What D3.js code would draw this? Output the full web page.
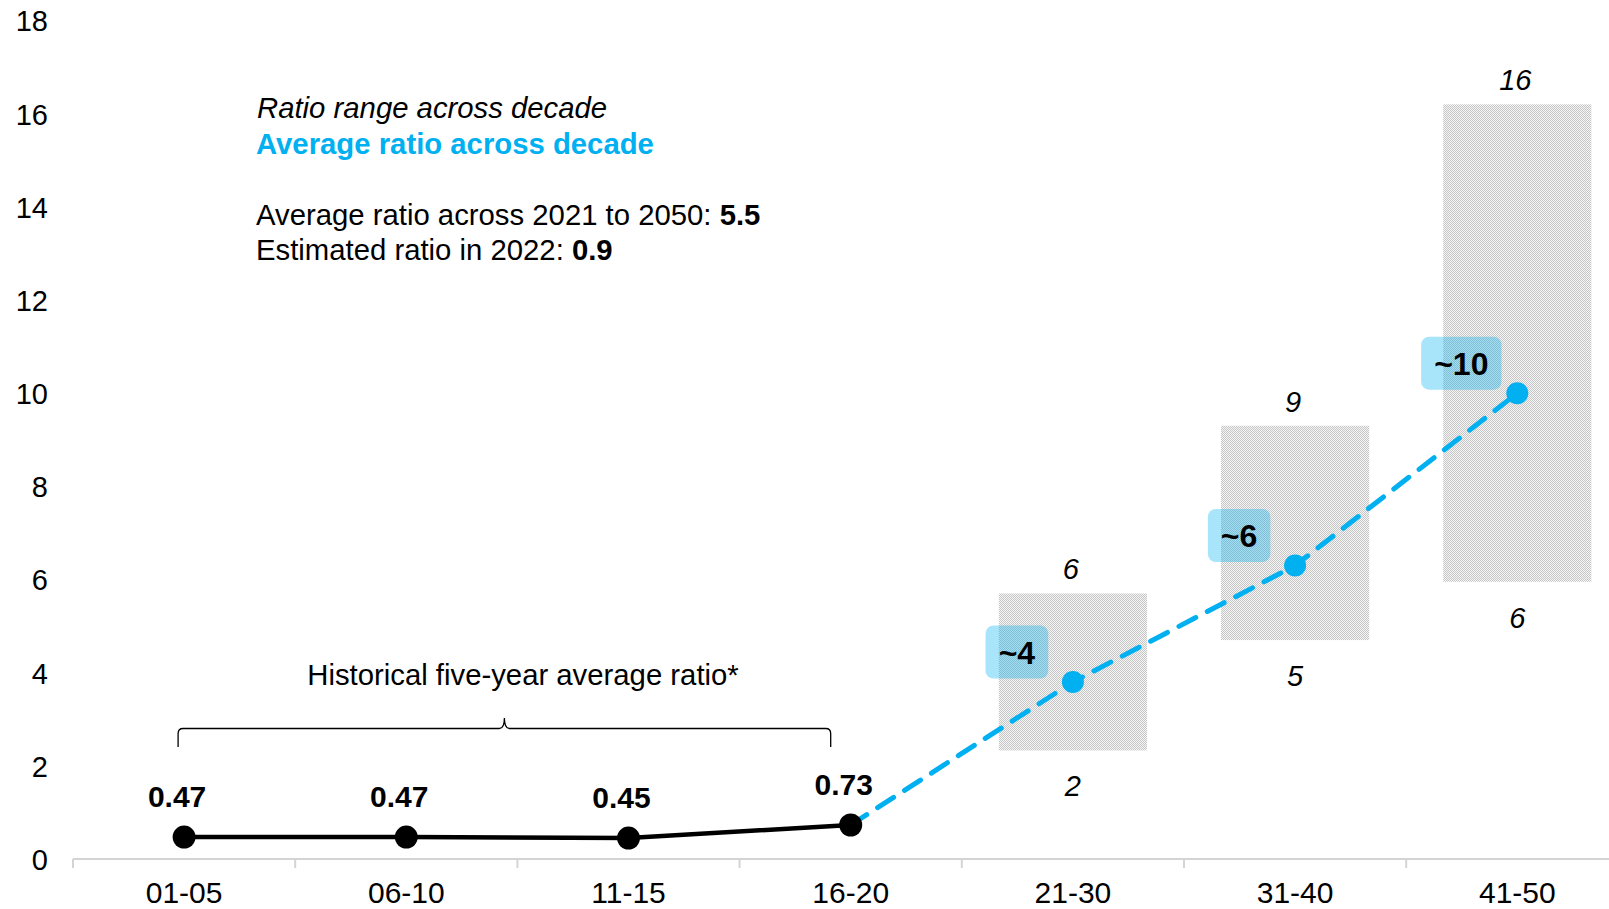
<!DOCTYPE html>
<html>
<head>
<meta charset="utf-8">
<script src="https://cdn.jsdelivr.net/npm/d3@7"></script>
<style>
  html, body { margin: 0; padding: 0; background: #fff; }
  svg { display: block; font-family: "Liberation Sans", Arial, sans-serif; }
</style>
</head>
<body>
<svg id="chart" width="1609" height="909"></svg>
<script>
// Period categories along the x axis
const categories = ["01-05", "06-10", "11-15", "16-20", "21-30", "31-40", "41-50"];

// Historical five-year average ratio
const histPeriods = ["01-05", "06-10", "11-15", "16-20"];
const histValues = [0.47, 0.47, 0.45, 0.73];

// Projected decades: average, low and high ratio
const decades = ["21-30", "31-40", "41-50"];
const decadeAvg = [3.8, 6.3, 10.0];
const decadeLow = [2.33, 4.7, 5.95];
const decadeHigh = [5.7, 9.3, 16.2];

// Y-axis ticks
const yTicks = [0, 2, 4, 6, 8, 10, 12, 14, 16, 18];

// Summary figures
const avg2021to2050 = 5.5;
const est2022 = 0.9;

const BLUE = "#00B0F0";
const svg = d3.select("#chart");

const y = d3.scaleLinear().domain([0, 18]).range([859, 20.5]);
const x = d3.scaleBand().domain(categories).range([73, 73 + 7 * 222.2]).padding(0);
const cx = c => x(c) + x.bandwidth() / 2;

// Dotted fill for the range boxes
const defs = svg.append("defs");
const pat = defs.append("pattern").attr("id", "dots")
  .attr("width", 2).attr("height", 2).attr("patternUnits", "userSpaceOnUse");
pat.append("rect").attr("width", 2).attr("height", 2).attr("fill", "#f5f5f5");
pat.append("rect").attr("x", 0).attr("y", 0).attr("width", 1).attr("height", 1).attr("fill", "#c6c6c6");
pat.append("rect").attr("x", 1).attr("y", 1).attr("width", 1).attr("height", 1).attr("fill", "#c6c6c6");

// Y axis labels (no line)
const yAxis = d3.axisLeft(y).tickValues(yTicks).tickSize(0).tickPadding(0);
const gy = svg.append("g").attr("transform", "translate(48,0)").call(yAxis);
gy.select(".domain").remove();
gy.selectAll("text").attr("font-size", 29).attr("fill", "#000")
  .attr("font-family", "Liberation Sans, Arial, sans-serif").attr("dy", "0.36em");

// X axis: baseline, boundary ticks and centred labels
const gx = svg.append("g").attr("transform", "translate(0,859)");
gx.append("line").attr("x1", x.range()[0]).attr("x2", x.range()[1])
  .attr("stroke", "#d4d4d4").attr("stroke-width", 2);
gx.selectAll("line.tick").data(categories).join("line").attr("class", "tick")
  .attr("x1", d => x(d)).attr("x2", d => x(d)).attr("y1", 0).attr("y2", 9)
  .attr("stroke", "#d4d4d4").attr("stroke-width", 2);
const xAxis = d3.axisBottom(x).tickSize(0).tickPadding(0);
const gxl = svg.append("g").attr("transform", "translate(0,859)").call(xAxis);
gxl.select(".domain").remove();
gxl.selectAll("text").attr("font-size", 30).attr("fill", "#000")
  .attr("font-family", "Liberation Sans, Arial, sans-serif").attr("dy", "1.45em");

// Range boxes
const boxW = x.bandwidth() * 2 / 3;
const ranges = decades.map((d, i) => ({ d, lo: decadeLow[i], hi: decadeHigh[i], avg: decadeAvg[i] }));
svg.append("g").selectAll("rect").data(ranges).join("rect")
  .attr("x", r => cx(r.d) - boxW / 2).attr("width", boxW)
  .attr("y", r => y(r.hi)).attr("height", r => y(r.lo) - y(r.hi))
  .attr("fill", "url(#dots)");

// Range labels (rounded)
const fmt0 = d3.format(".0f");
const rl = svg.append("g").attr("font-size", 29).attr("font-style", "italic").attr("text-anchor", "middle");
rl.selectAll("text.hi").data(ranges).join("text").attr("class", "hi")
  .attr("x", r => cx(r.d) - 2).attr("y", r => y(r.hi) - 14).text(r => fmt0(r.hi));
rl.selectAll("text.lo").data(ranges).join("text").attr("class", "lo")
  .attr("x", r => cx(r.d)).attr("y", r => y(r.lo) + 46).text(r => fmt0(r.lo));

// Projected average: dashed line starting from the last historical point
const projPts = [{ c: histPeriods[histPeriods.length - 1], v: histValues[histValues.length - 1] }]
  .concat(ranges.map(r => ({ c: r.d, v: r.avg })));
const line = d3.line().x(p => cx(p.c)).y(p => y(p.v));
svg.append("path").datum(projPts).attr("d", line)
  .attr("fill", "none").attr("stroke", BLUE).attr("stroke-width", 5)
  .attr("stroke-dasharray", "19,13").attr("stroke-linecap", "round");

// Historical line
const histPts = histPeriods.map((c, i) => ({ c, v: histValues[i] }));
svg.append("path").datum(histPts).attr("d", line)
  .attr("fill", "none").attr("stroke", "#000").attr("stroke-width", 4.5);
svg.append("g").selectAll("circle").data(histPts).join("circle")
  .attr("cx", p => cx(p.c)).attr("cy", p => y(p.v)).attr("r", 11.5).attr("fill", "#000");
svg.append("g").attr("font-size", 30).attr("font-weight", "bold").attr("text-anchor", "middle")
  .selectAll("text").data(histPts).join("text")
  .attr("x", p => cx(p.c) - 7).attr("y", p => y(p.v) - 30).text(p => d3.format(".2f")(p.v));

// Projected average dots
svg.append("g").selectAll("circle").data(ranges).join("circle")
  .attr("cx", r => cx(r.d)).attr("cy", r => y(r.avg)).attr("r", 11).attr("fill", BLUE);

// Average badges
const badges = svg.append("g").selectAll("g").data(ranges).join("g")
  .attr("transform", r => `translate(${cx(r.d) - 56},${y(r.avg) - 30})`);
badges.append("text").attr("font-size", 32).attr("font-weight", "bold")
  .attr("text-anchor", "middle").attr("dy", "0.36em").text(r => "~" + fmt0(r.avg));
badges.each(function () {
  const g = d3.select(this);
  const w = g.select("text").node().getBBox().width + 26;
  g.insert("rect", "text").attr("x", -w / 2).attr("y", -26.5).attr("width", w).attr("height", 53)
    .attr("rx", 8).attr("fill", BLUE).attr("fill-opacity", 0.34);
});

// Legend and summary text
const leg = svg.append("g").attr("font-size", 29.3);
leg.append("text").attr("x", 257).attr("y", 118).attr("font-style", "italic").text("Ratio range across decade");
leg.append("text").attr("x", 256).attr("y", 153.5).attr("font-weight", "bold").attr("fill", BLUE).text("Average ratio across decade");
const t1 = leg.append("text").attr("x", 256).attr("y", 224.5);
t1.append("tspan").text("Average ratio across 2021 to 2050: ");
t1.append("tspan").attr("font-weight", "bold").text(d3.format(".1f")(avg2021to2050));
const t2 = leg.append("text").attr("x", 256).attr("y", 259.5);
t2.append("tspan").text("Estimated ratio in 2022: ");
t2.append("tspan").attr("font-weight", "bold").text(d3.format(".1f")(est2022));

// Brace over historical period
const bx0 = cx(histPeriods[0]) - 6, bx1 = cx(histPeriods[histPeriods.length - 1]) - 20;
const bm = (bx0 + bx1) / 2, by = 728.5, bb = 747, bt = 718;
svg.append("path")
  .attr("d", `M${bx0},${bb} L${bx0},${by + 5} Q${bx0},${by} ${bx0 + 5},${by} L${bm - 5},${by} Q${bm},${by} ${bm},${bt} Q${bm},${by} ${bm + 5},${by} L${bx1 - 5},${by} Q${bx1},${by} ${bx1},${by + 5} L${bx1},${bb}`)
  .attr("fill", "none").attr("stroke", "#000").attr("stroke-width", 1.3);
svg.append("text").attr("x", 523).attr("y", 685).attr("font-size", 29.3).attr("text-anchor", "middle")
  .text("Historical five-year average ratio*");
</script>
</body>
</html>
